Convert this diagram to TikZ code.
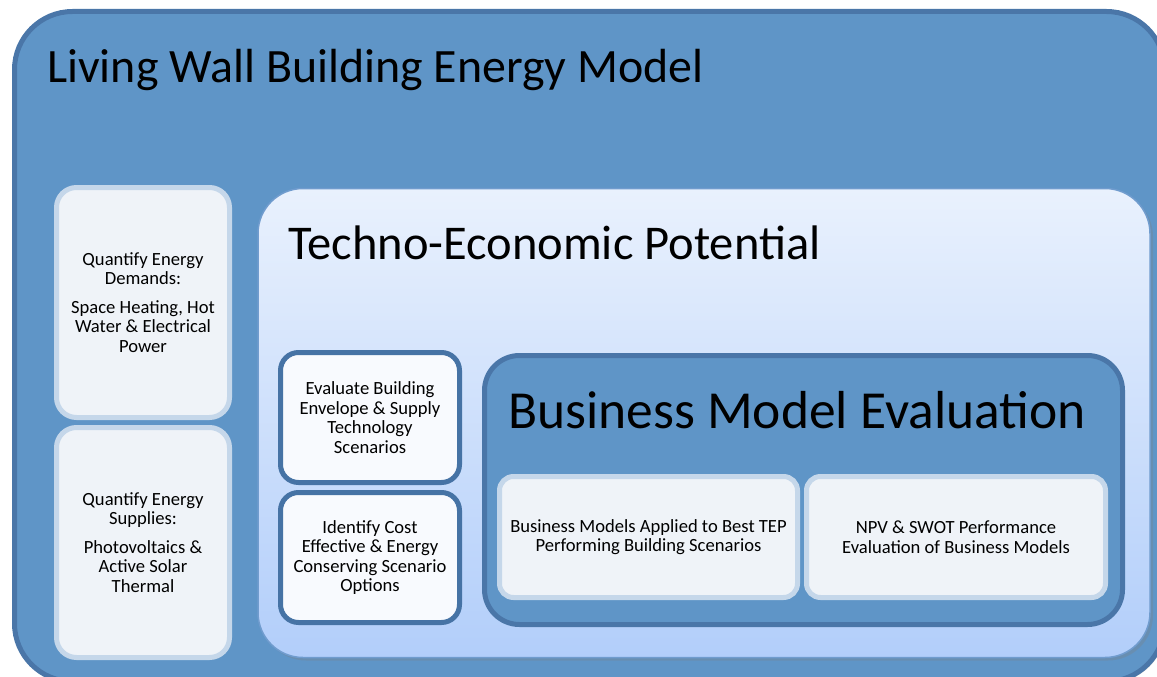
\documentclass[tikz,border=0pt]{standalone}
\usepackage{fontspec}
\setmainfont{Carlito}
\usetikzlibrary{shadows}

\definecolor{outerfill}{RGB}{95,149,199}
\definecolor{outerline}{RGB}{74,118,168}
\definecolor{palefill}{RGB}{239,243,248}
\definecolor{paleline}{RGB}{197,215,234}
\definecolor{teptop}{RGB}{233,241,253}
\definecolor{tepbottom}{RGB}{178,206,250}
\definecolor{tepline}{RGB}{112,156,206}
\definecolor{whitefill}{RGB}{248,250,254}
\definecolor{darkline}{RGB}{70,115,165}

\tikzset{
  container/.style={rounded corners=#1, inner sep=0pt},
  palebox/.style={draw=paleline, fill=palefill, line width=5pt, rounded corners=20pt,
    inner sep=0pt, align=center, font=\fontsize{18.6}{19.6}\selectfont},
  darkbox/.style={draw=darkline, fill=whitefill, line width=5pt, rounded corners=18pt,
    inner sep=0pt, align=center, font=\fontsize{18.6}{19.6}\selectfont},
  heading/.style={anchor=base west, inner sep=0pt},
}

\begin{document}
\begin{tikzpicture}[x=1pt, y=-1pt]
\useasboundingbox (0,0) rectangle (1157,677);

% outermost panel
\node[container=58pt, draw=outerline, fill=outerfill, line width=5pt,
  drop shadow={shadow xshift=2pt, shadow yshift=-2pt, opacity=0.35},
  minimum width=1150pt, minimum height=670pt] (outer) at (589.5,346.5) {};
\node[heading, font=\fontsize{47.9}{50}\selectfont] (outertitle) at (47,83)
  {Living Wall Building Energy Model};

% energy demand and supply boxes
\node[palebox, minimum width=173pt, minimum height=230pt] (demand) at (143,302.5)
  {Quantify Energy\\Demands:\\[9pt]Space Heating, Hot\\Water \& Electrical\\Power};
\node[palebox, minimum width=173pt, minimum height=230pt] (supply) at (143,542.5)
  {Quantify Energy\\Supplies:\\[9pt]Photovoltaics \&\\Active Solar\\Thermal};

% techno-economic potential panel
\node[container=45pt, draw=tepline, line width=1.5pt,
  top color=teptop, bottom color=tepbottom,
  drop shadow={shadow xshift=3pt, shadow yshift=-3pt, opacity=0.3},
  minimum width=892pt, minimum height=469pt] (tep) at (704,423) {};
\node[heading, font=\fontsize{48.5}{50}\selectfont] (teptitle) at (288,259)
  {Techno-Economic Potential};

\node[darkbox, minimum width=179pt, minimum height=130pt] (evaluate) at (370,417.5)
  {Evaluate Building\\Envelope \& Supply\\Technology\\Scenarios};
\node[darkbox, minimum width=179pt, minimum height=130pt] (identify) at (370,557.5)
  {Identify Cost\\Effective \& Energy\\Conserving Scenario\\Options};

% business model evaluation panel
\node[container=35pt, draw=outerline, fill=outerfill, line width=5pt,
  minimum width=638pt, minimum height=269pt] (bme) at (803.5,490) {};
\node[heading, font=\fontsize{53.5}{58}\selectfont] (bmetitle) at (508,428)
  {Business Model Evaluation};

\node[palebox, rounded corners=14pt, minimum width=298pt, minimum height=121pt] (applied) at (648.5,537)
  {Business Models Applied to Best TEP\\Performing Building Scenarios};
\node[palebox, rounded corners=14pt, minimum width=299pt, minimum height=121pt] (npv) at (956,537)
  {NPV \& SWOT Performance\\Evaluation of Business Models};
\end{tikzpicture}
\end{document}
